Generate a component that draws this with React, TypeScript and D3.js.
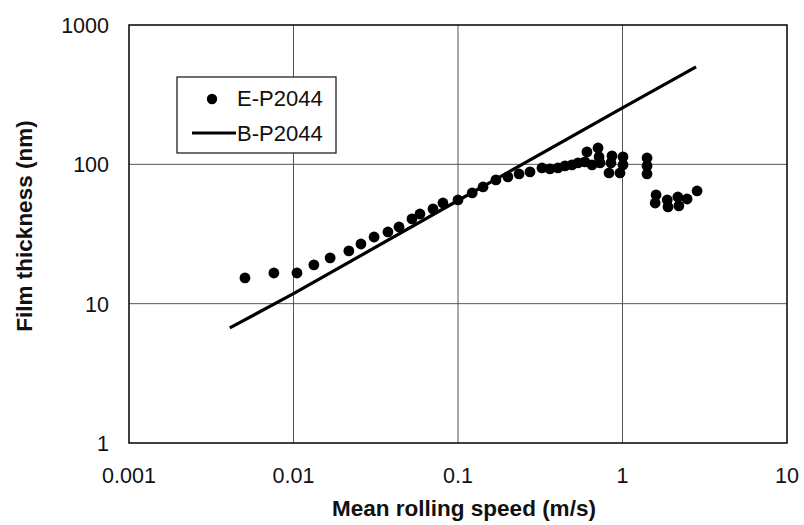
import React from "react";
import * as d3 from "d3";

const speedE = [0.00507, 0.0076, 0.0105, 0.0133, 0.0167, 0.0217, 0.0257, 0.0309, 0.0375, 0.0438, 0.0525, 0.0587, 0.0705, 0.081, 0.1, 0.122, 0.142, 0.17, 0.201, 0.235, 0.274, 0.324, 0.362, 0.405, 0.447, 0.493, 0.536, 0.591, 0.608, 0.653, 0.71, 0.72, 0.73, 0.828, 0.851, 0.863, 0.966, 1.007, 1.007, 1.41, 1.41, 1.41, 1.58, 1.6, 1.87, 1.89, 2.17, 2.2, 2.47, 2.84];
const thickE = [15.3, 16.6, 16.6, 19.0, 21.3, 23.9, 26.8, 30.1, 32.7, 35.5, 40.6, 44.0, 47.9, 52.8, 55.5, 62.3, 68.8, 77.3, 81.2, 85.3, 88.2, 94.2, 92.7, 94.2, 97.4, 99.0, 102.4, 104.1, 122.8, 99.0, 131, 113, 102.4, 86.7, 102.4, 115, 86.7, 113, 99.0, 111, 97.4, 85.3, 52.8, 60.3, 55.5, 49.5, 58.3, 50.3, 56.4, 64.4];

const speedB = [0.0041, 0.01, 0.1, 1, 2.8];
const thickB = [6.7, 11.8, 55, 254, 500];

const xTicks = [0.001, 0.01, 0.1, 1, 10];
const xTickLabels = ["0.001", "0.01", "0.1", "1", "10"];
const yTicks = [1, 10, 100, 1000];
const yTickLabels = ["1", "10", "100", "1000"];

const seriesNames = ["E-P2044", "B-P2044"];
const xTitle = "Mean rolling speed (m/s)";
const yTitle = "Film thickness (nm)";

const W = 804;
const H = 525;
const M = { left: 129, right: 17, top: 25, bottom: 82 };
const FONT = "'Liberation Sans', Arial, Helvetica, sans-serif";

export default function App() {
  const x = d3.scaleLog().domain([0.001, 10]).range([M.left, W - M.right]);
  const y = d3.scaleLog().domain([1, 1000]).range([H - M.bottom, M.top]);
  const line = d3
    .line<number>()
    .x((d, i) => x(speedB[i]))
    .y((d) => y(d));
  const lineD = line(thickB) || "";

  const x0 = x.range()[0];
  const x1 = x.range()[1];
  const y0 = y.range()[0];
  const y1 = y.range()[1];

  return (
    <svg
      width={W}
      height={H}
      style={{ position: "absolute", left: 0, top: 0, background: "#fff" }}
      fontFamily={FONT}
    >
      <rect x={0} y={0} width={W} height={H} fill="#fff" />
      {/* grid */}
      {xTicks.slice(1, -1).map((t) => (
        <line key={"gx" + t} x1={x(t)} x2={x(t)} y1={y1} y2={y0} stroke="#555" strokeWidth={1} />
      ))}
      {yTicks.slice(1, -1).map((t) => (
        <line key={"gy" + t} x1={x0} x2={x1} y1={y(t)} y2={y(t)} stroke="#555" strokeWidth={1} />
      ))}
      {/* frame */}
      <rect x={x0} y={y1} width={x1 - x0} height={y0 - y1} fill="none" stroke="#111" strokeWidth={1.6} />

      {/* tick labels */}
      {yTicks.map((t, i) => (
        <text key={"yl" + t} x={x0 - 20} y={y(t) + 8} textAnchor="end" fontSize={21.5} fill="#111">
          {yTickLabels[i]}
        </text>
      ))}
      {xTicks.map((t, i) => (
        <text key={"xl" + t} x={x(t)} y={483} textAnchor="middle" fontSize={21.5} fill="#111">
          {xTickLabels[i]}
        </text>
      ))}

      {/* titles */}
      <text x={464} y={516} textAnchor="middle" fontSize={22.5} fontWeight="bold" fill="#111">
        {xTitle}
      </text>
      <text
        transform={`translate(32,226) rotate(-90)`}
        textAnchor="middle"
        fontSize={22.5}
        fontWeight="bold"
        fill="#111"
      >
        {yTitle}
      </text>

      {/* series */}
      <path d={lineD} fill="none" stroke="#000" strokeWidth={3.2} />
      {speedE.map((s, i) => (
        <circle key={"p" + i} cx={x(s)} cy={y(thickE[i])} r={5.4} fill="#000" />
      ))}

      {/* legend */}
      <rect x={177} y={77} width={159} height={76} fill="#fff" stroke="#222" strokeWidth={1.3} />
      <circle cx={212} cy={99} r={5.2} fill="#000" />
      <text x={237} y={106} fontSize={22} fill="#111">
        {seriesNames[0]}
      </text>
      <line x1={192} x2={236} y1={133} y2={133} stroke="#000" strokeWidth={3} />
      <text x={237} y={141} fontSize={22} fill="#111">
        {seriesNames[1]}
      </text>
    </svg>
  );
}
